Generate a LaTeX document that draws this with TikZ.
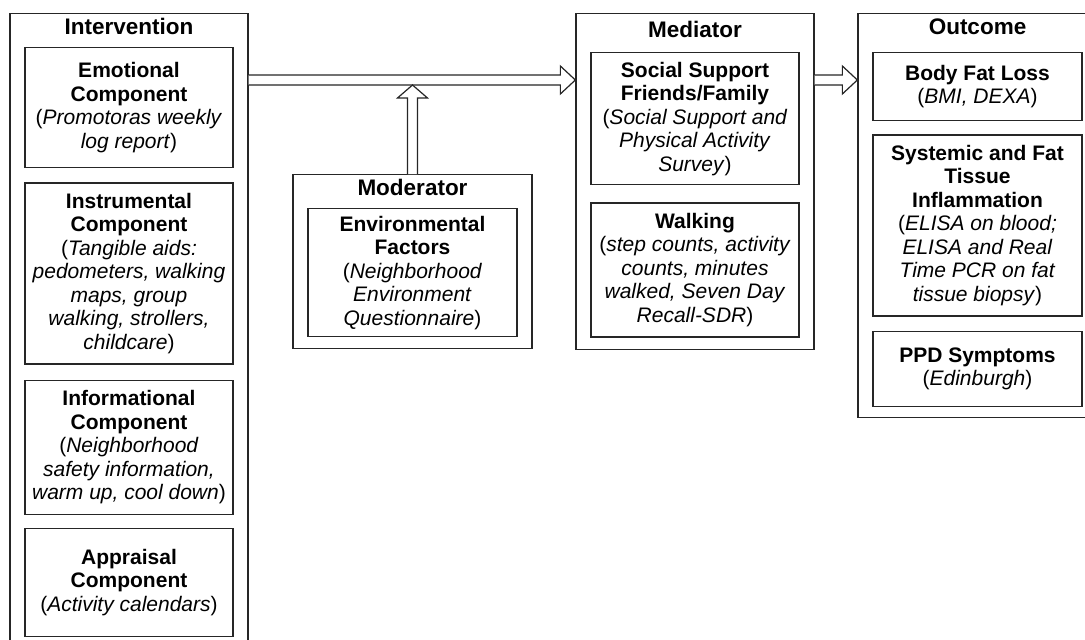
\documentclass[tikz,border=0pt]{standalone}
\usepackage{fontspec}
\setmainfont{Liberation Sans}
\usepackage{tikz}
\usetikzlibrary{positioning,calc}
\newcommand{\boxfont}{\fontsize{21}{23.5}\selectfont}
\newcommand{\headfont}{\fontsize{22.5}{25}\selectfont}

\begin{document}
\begin{tikzpicture}[x=1pt,y=1pt,
    group/.style={draw=black!85,line width=1.3pt,minimum width=238pt,inner sep=0pt,anchor=north},
    part/.style={draw=black!85,line width=1.3pt,minimum width=208pt,inner sep=2pt,align=center,font=\boxfont},
    title/.style={font=\headfont\bfseries,inner sep=0pt},
    hollow/.style={draw=black!85,line width=1.2pt,fill=white,line join=miter}] %
    \useasboundingbox (0,0) rectangle (1085,-640); %
    % intervention column
    \node[group,minimum height=660pt] (intv) at (129,-13) {}; %
    \node[title,below=5pt of intv.north] (intvT) {Intervention}; %
    \node[part,minimum height=120pt,below=34pt of intv.north] (emo) {\textbf{Emotional}\\\textbf{Component}\\(\textit{Promotoras weekly}\\\textit{log report})}; %
    \node[part,minimum height=181pt,below=14pt of emo] (instr) {\textbf{Instrumental}\\\textbf{Component}\\(\textit{Tangible aids:}\\\textit{pedometers, walking}\\\textit{maps, group}\\\textit{walking, strollers,}\\\textit{childcare})}; %
    \node[part,minimum height=134pt,below=15pt of instr] (info) {\textbf{Informational}\\\textbf{Component}\\(\textit{Neighborhood}\\\textit{safety information,}\\\textit{warm up, cool down})}; %
    \node[part,minimum height=108pt,below=13pt of info] (appr) {\textbf{Appraisal}\\\textbf{Component}\\(\textit{Activity calendars})}; %
    % moderator
    \node[group,minimum width=239pt,minimum height=174pt] (mod) at (412.5,-174) {}; %
    \node[title,below=5pt of mod.north] (modT) {Moderator}; %
    \node[part,minimum width=209pt,minimum height=128pt,below=34pt of mod.north] (env) {\textbf{Environmental}\\\textbf{Factors}\\(\textit{Neighborhood}\\\textit{Environment}\\\textit{Questionnaire})}; %
    % mediator
    \node[group,minimum height=336pt] (med) at (695,-13) {}; %
    \node[title,below=8pt of med.north] (medT) {Mediator}; %
    \node[part,minimum height=132pt,below=39pt of med.north] (soc) {\textbf{Social Support}\\\textbf{Friends/Family}\\(\textit{Social Support and}\\\textit{Physical Activity}\\\textit{Survey})}; %
    \node[part,minimum height=134pt,below=17pt of soc] (walk) {\textbf{Walking}\\(\textit{step counts, activity}\\\textit{counts, minutes}\\\textit{walked, Seven Day}\\\textit{Recall-SDR})}; %
    % outcome
    \node[group,minimum width=239pt,minimum height=404pt] (out) at (977.5,-13) {}; %
    \node[title,below=6pt of out.north] (outT) {Outcome}; %
    \node[part,minimum width=209pt,minimum height=68pt,below=39pt of out.north] (fat) {\textbf{Body Fat Loss}\\(\textit{BMI, DEXA})}; %
    \node[part,minimum width=209pt,minimum height=181pt,below=13pt of fat] (infl) {\textbf{Systemic and Fat}\\\textbf{Tissue}\\\textbf{Inflammation}\\(\textit{ELISA on blood;}\\\textit{ELISA and Real}\\\textit{Time PCR on fat}\\\textit{tissue biopsy})}; %
    \node[part,minimum width=209pt,minimum height=75pt,below=14pt of infl] (ppd) {\textbf{PPD Symptoms}\\(\textit{Edinburgh})}; %
    % arrows
    \draw[hollow] ($(intv.north east)+(0,-62)$) -- ($(med.north west)+(-15,-62)$) -- ($(med.north west)+(-15,-53)$) -- ($(med.north west)+(0,-67)$) -- ($(med.north west)+(-15,-81)$) -- ($(med.north west)+(-15,-72)$) -- ($(intv.north east)+(0,-72)$);
    \draw[hollow] ($(mod.north)+(-5,0)$) -- ($(mod.north)+(-5,76)$) -- ($(mod.north)+(-15,76)$) -- ($(mod.north)+(0,89)$) -- ($(mod.north)+(15,76)$) -- ($(mod.north)+(5,76)$) -- ($(mod.north)+(5,0)$);
    \draw[hollow] ($(med.north east)+(0,-62)$) -- ($(out.north west)+(-15,-62)$) -- ($(out.north west)+(-15,-53)$) -- ($(out.north west)+(0,-67)$) -- ($(out.north west)+(-15,-81)$) -- ($(out.north west)+(-15,-72)$) -- ($(med.north east)+(0,-72)$);
\end{tikzpicture}
\end{document}
